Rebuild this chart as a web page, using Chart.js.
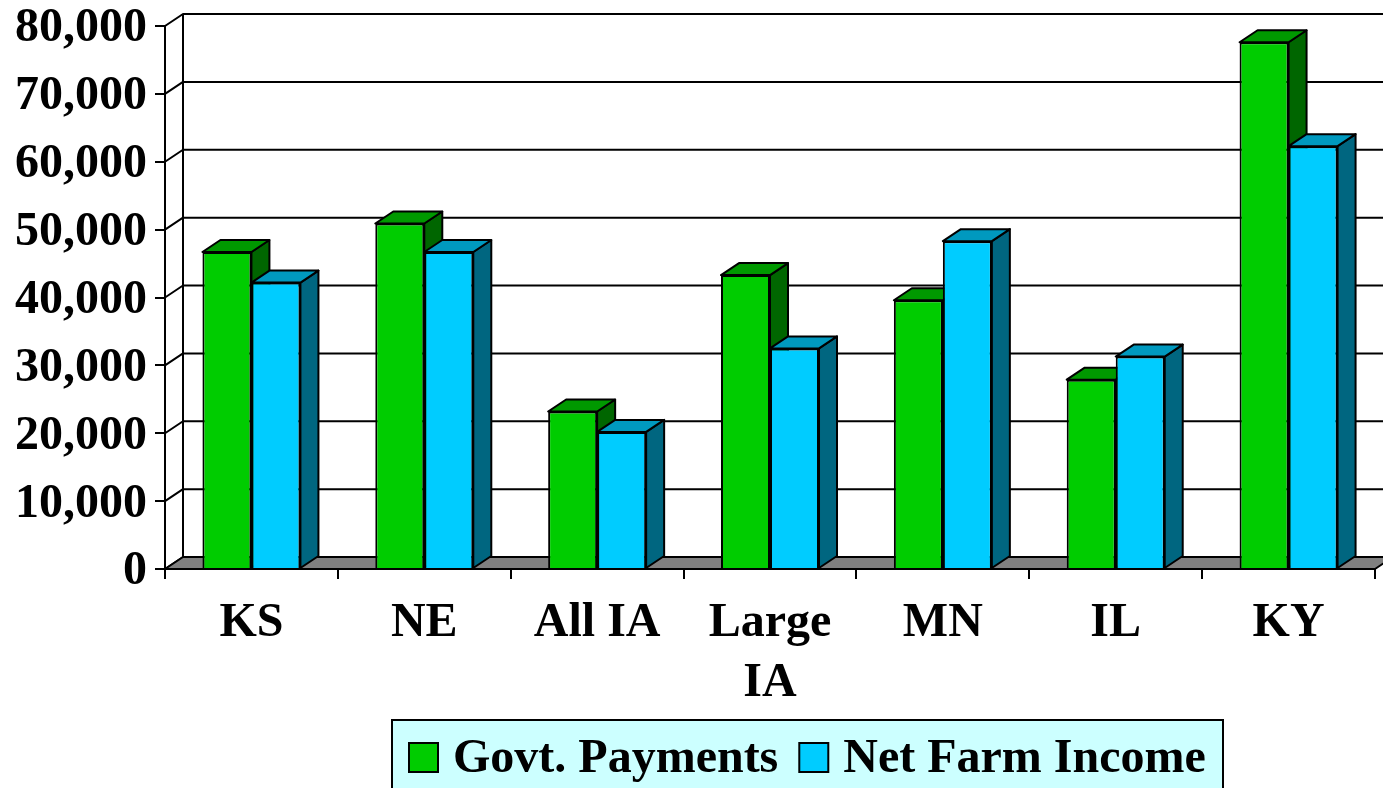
<!DOCTYPE html>
<html>
<head>
<meta charset="utf-8">
<script src="https://cdn.jsdelivr.net/npm/chart.js@4.4.1/dist/chart.umd.min.js"></script>
<style>
  html, body { margin: 0; padding: 0; background: #fff; overflow: hidden; }
  #wrap { position: relative; width: 1383px; height: 788px; }
</style>
</head>
<body>
<div id="wrap"><canvas id="graph1"></canvas></div>
<script>
// data
const categories     = ['KS', 'NE', 'All IA', ['Large', 'IA'], 'MN', 'IL', 'KY'];
const govtPayments   = [46700, 50900, 23200, 43300, 39600, 27900, 77600];
const netFarmIncome  = [42200, 46700, 20200, 32500, 48300, 31300, 62300];
const yTicks         = [0, 10000, 20000, 30000, 40000, 50000, 60000, 70000, 80000];

// 3D look
const DX = 18, DY = 12;
const topColors  = ['#009900', '#0099BF'];
const sideColors = ['#006600', '#006680'];
const FONT = '"Liberation Serif", "Times New Roman", serif';

function poly(ctx, pts, fill){
    ctx.beginPath();
    ctx.moveTo(pts[0][0], pts[0][1]);
    for (let i = 1; i < pts.length; i++) ctx.lineTo(pts[i][0], pts[i][1]);
    ctx.closePath();
    ctx.fillStyle = fill;
    ctx.fill();
    ctx.stroke();
}

const box3d = {
    id: 'box3d',
    beforeDatasetsDraw(chart){
        const ctx = chart.ctx;
        const {left, right, top, bottom} = chart.chartArea;
        const ys = chart.scales.y;
        ctx.save();
        ctx.strokeStyle = '#000';
        ctx.lineWidth = 2;
        ctx.lineJoin = 'round';

        // back wall lines
        for (let v of yTicks){
            const py = ys.getPixelForValue(v);
            ctx.beginPath();
            ctx.moveTo(left, py);
            ctx.lineTo(left + DX, py - DY);
            if (v > 0) ctx.lineTo(right + DX + 20, py - DY);
            ctx.stroke();
        }
        ctx.beginPath();
        ctx.moveTo(left + DX, bottom - DY);
        ctx.lineTo(left + DX, top - DY);
        ctx.stroke();

        // floor
        poly(ctx, [[left, bottom], [right, bottom], [right + DX, bottom - DY], [left + DX, bottom - DY]], '#808080');

        // top and side faces of the bars
        chart.data.datasets.forEach((ds, di) => {
            const meta = chart.getDatasetMeta(di);
            meta.data.forEach(bar => {
                const L = bar.x - bar.width / 2, R = bar.x + bar.width / 2;
                const T = bar.y, B = bar.base;
                poly(ctx, [[R, T], [R + DX, T - DY], [R + DX, B - DY], [R, B]], sideColors[di]);
                poly(ctx, [[L, T], [R, T], [R + DX, T - DY], [L + DX, T - DY]], topColors[di]);
            });
        });
        ctx.restore();
    },
    afterDraw(chart){
        // legend box
        const ctx = chart.ctx;
        const bx = 392, by = 720, bw = 831, bh = 90;
        ctx.save();
        ctx.fillStyle = '#CCFFFF';
        ctx.strokeStyle = '#000';
        ctx.lineWidth = 2;
        ctx.fillRect(bx, by, bw, bh);
        ctx.strokeRect(bx, by, bw, bh);

        ctx.font = 'bold 48px ' + FONT;
        ctx.textBaseline = 'alphabetic';
        let x = bx + 17;
        chart.data.datasets.forEach(ds => {
            ctx.fillStyle = ds.backgroundColor;
            ctx.fillRect(x, 743, 29, 29);
            ctx.strokeRect(x, 743, 29, 29);
            x += 29 + 15;
            ctx.fillStyle = '#000';
            ctx.fillText(ds.label, x, 772);
            x += ctx.measureText(ds.label).width + 21;
        });
        ctx.restore();
    }
};

window.addEventListener('load', function(){
    const ctx = document.getElementById('graph1').getContext('2d');

    new Chart(ctx, {
        type: 'bar',
        data: {
            labels: categories,
            datasets: [
                { label: 'Govt. Payments',  data: govtPayments,  backgroundColor: '#00CC00' },
                { label: 'Net Farm Income', data: netFarmIncome, backgroundColor: '#00CCFF' }
            ]
        },
        options: {
            responsive: true,
            maintainAspectRatio: false,
            animation: false,
            events: [],
            datasets: {
                bar: {
                    borderColor: '#000',
                    borderWidth: 2,
                    categoryPercentage: 0.567,
                    barPercentage: 1.0,
                    inflateAmount: 0
                }
            },
            layout: { padding: { top: 26, right: 8, left: 0, bottom: 0 } },
            plugins: {
                legend: { display: false },
                tooltip: { enabled: false }
            },
            scales: {
                x: {
                    afterFit(scale){ scale.height = 219; },
                    grid: { drawOnChartArea: false, drawTicks: true, tickLength: 10, color: '#000', lineWidth: 2, offset: true },
                    border: { display: true, color: '#000', width: 2 },
                    ticks: {
                        color: '#000',
                        padding: 15,
                        maxRotation: 0,
                        autoSkip: false,
                        font: { family: FONT, size: 48, weight: 'bold', lineHeight: 1.25 }
                    }
                },
                y: {
                    min: 0,
                    max: 80000,
                    afterFit(scale){ scale.width = 165; },
                    grid: { drawOnChartArea: false, drawTicks: true, tickLength: 10, color: '#000', lineWidth: 2 },
                    border: { display: true, color: '#000', width: 2 },
                    ticks: {
                        stepSize: 10000,
                        color: '#000',
                        padding: 8,
                        labelOffset: 3,
                        // small line height so the top label does not push the plot down
                        font: { family: FONT, size: 48, weight: 'bold', lineHeight: 0.7 },
                        callback: v => v.toLocaleString('en-US')
                    }
                }
            }
        },
        plugins: [box3d]
    });
});
</script>
</body>
</html>
